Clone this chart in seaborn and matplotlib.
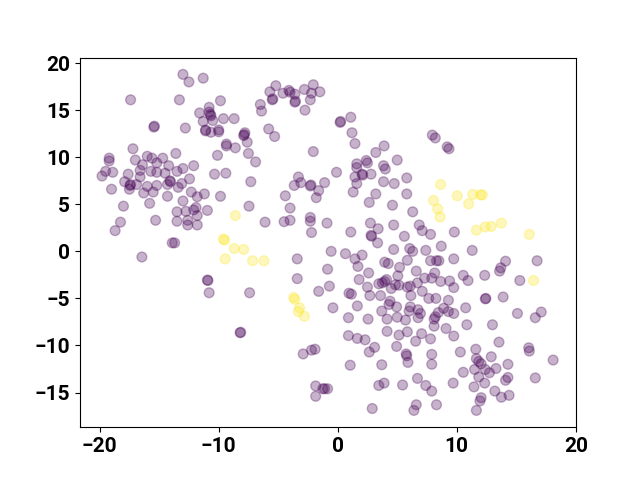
import matplotlib
matplotlib.use("Agg")
import matplotlib.pyplot as plt
import seaborn as sns
import pandas as pd

# embedding coordinates, grouped by area of the plot
# class 0 (purple)
top_left_x = [-13.0, -12.5, -11.3, -17.4, -13.3, -11.6, -15.45, -15.4, -12.8, -11.3, -11.1, -11.1,
              -17.2, -13.6, -19.2, -19.2, -17.0, -16.0, -15.6, -15.2, -14.7, -14.2, -12.1, -13.0,
              -16.4, -16.6, -15.7, -15.2, -14.5, -13.5, -19.5, -18.9, -19.8, -17.6, -16.6, -12.45]
top_left_y = [18.8, 18.0, 18.4, 16.1, 16.1, 14.7, 13.2, 13.3, 13.1, 13.8, 12.8, 12.9,
              10.9, 10.4, 9.9, 9.6, 9.7, 10.1, 9.9, 9.4, 9.9, 9.1, 9.1, 8.8,
              9.2, 8.6, 8.5, 8.4, 8.3, 8.5, 8.5, 8.4, 8.0, 8.2, 7.9, 7.7]

mid_left_x = [-19.0, -17.9, -17.4, -17.45, -17.5, -16.9, -16.0, -16.3, -15.5, -15.2, -14.3, -14.1,
              -14.05, -13.4, -13.1, -14.3, -13.0, -12.3, -11.8, -11.2, -18.0, -15.8, -13.5, -12.75,
              -12.1, -11.9, -11.8, -10.95, -18.25, -18.7, -15.3, -13.5, -12.6, -12.6, -11.8, -13.9,
              -13.7, -16.45, -10.95, -10.9, -10.8]
mid_left_y = [6.6, 7.4, 7.1, 7.0, 6.6, 7.1, 6.9, 6.2, 6.3, 7.0, 7.1, 7.5,
              7.4, 6.8, 7.2, 5.85, 5.35, 6.3, 5.8, 6.1, 4.8, 5.1, 4.2, 4.25,
              4.4, 4.65, 3.8, 4.35, 3.1, 2.2, 3.3, 3.2, 3.3, 2.8, 2.8, 0.9,
              0.9, -0.6, -3.05, -3.1, -4.4]

top_mid_x = [-5.2, -5.7, -4.6, -4.1, -4.0, -3.6, -3.6, -3.55, -2.8, -2.05, -2.2, -2.3,
             -1.5, -2.75, -5.5, -5.45, -6.5, -6.4, -9.85, -10.8, -10.8, -10.65, -10.7, -10.5,
             -9.6, -8.7, -10.0, -10.0, -10.65, -7.8, -7.9, -7.85, -5.8, -5.3, -9.35, -9.35,
             -8.6, -7.6, -7.5, -6.9, -10.1, -10.35, -9.4, -2.05, -7.3, -3.3]
top_mid_y = [17.6, 16.95, 16.8, 17.1, 16.9, 16.7, 15.85, 15.95, 17.2, 17.7, 16.8, 16.1,
             16.95, 15.0, 16.1, 16.2, 15.6, 14.9, 16.0, 15.3, 14.8, 14.4, 14.55, 13.9,
             14.1, 14.1, 12.9, 12.7, 12.65, 12.6, 12.3, 12.4, 13.0, 12.2, 11.4, 11.2,
             11.0, 11.6, 10.4, 9.5, 10.2, 8.2, 8.3, 10.6, 7.4, 7.9]

centre_x = [-9.85, -7.45, -6.1, -3.65, -3.1, -2.3, -2.25, -1.6, -1.8, -1.1, -4.4, -4.0,
            -4.5, -4.0, -2.3, -2.3, -2.2, -0.9, -0.55, -3.4, -0.85, -3.4, -7.4, -1.6, -0.7]
centre_y = [5.85, 4.8, 3.1, 7.0, 7.3, 6.95, 7.05, 6.45, 5.7, 7.3, 5.9, 4.6,
            3.15, 3.3, 3.6, 3.2, 2.0, 3.0, 0.0, -0.8, -1.9, -2.9, -4.4, -4.25, -3.7]

low_left_x = [-8.2, -8.15, -2.9, -2.2, -1.9, -1.85, -1.85, -1.25, -1.1, -0.85, -0.4]
low_left_y = [-8.65, -8.6, -10.9, -10.5, -10.4, -14.3, -15.4, -14.6, -14.6, -14.6, -6.0]

top_right_x = [0.2, 0.25, 1.1, 1.2, 1.45, 3.9, 3.2, 5.0, 2.4, 2.5, 1.6, 1.6,
               3.85, 4.0, -0.1, 2.1, 2.05, 2.8, 1.45, 5.8, 7.95, 8.2, 9.2, 9.35]
top_right_y = [13.7, 13.8, 14.25, 12.6, 11.45, 11.2, 10.5, 9.7, 9.65, 9.4, 9.3, 8.9,
               9.1, 8.75, 8.4, 8.1, 8.2, 8.2, 7.9, 7.8, 12.35, 12.05, 11.1, 10.9]

mid_right_x = [1.6, 3.85, 4.75, 1.3, 3.2, 2.65, 4.6, 5.8, 6.3, 2.75, 3.4, 4.7,
               6.85, 7.1, 7.8, 1.1, 2.85, 2.8, 3.35, 5.6, 8.7, 9.8, 0.65, 1.45,
               2.05, 4.7, 6.05, 6.3, 7.4, 7.8, 8.3, 8.5, 9.75, 5.85, 1.7, 3.95,
               4.25, 5.2, 2.6, 5.05, 6.6, 8.15, 7.3, 7.9, 8.65, 9.4, 1.8, 4.1,
               3.45, 3.75, 3.95, 4.85, 5.15, 5.85, 6.1, 6.7, 2.5, 4.5, 7.1, 9.75,
               0.95, 1.15, 2.7, 3.6, 6.15, 7.65, 8.25, 9.3, 4.4]
mid_right_y = [7.2, 7.4, 7.2, 6.3, 6.1, 5.2, 4.9, 6.1, 4.2, 3.0, 2.4, 2.8,
               2.8, 2.2, 1.8, 2.05, 1.6, 1.7, 0.9, 1.6, 0.55, 2.05, -0.25, -0.8,
               -0.4, 0.2, 0.3, 0.0, 0.1, -1.0, -1.0, -1.0, -0.8, -0.95, -1.6, -1.15,
               -1.3, -1.7, -2.3, -2.6, -2.1, -2.3, -2.85, -2.85, -3.2, -3.15, -3.0, -3.0,
               -3.45, -3.35, -3.2, -3.55, -3.6, -3.8, -3.7, -3.35, -3.8, -3.95, -4.25, -3.85,
               -4.45, -4.55, -4.7, -4.7, -4.7, -5.0, -5.0, -5.2, -5.3]

low_mid_x = [1.65, 0.9, 2.55, 3.7, 4.15, 4.3, 4.95, 5.0, 5.7, 6.0, 6.1, 6.75,
             6.95, 6.75, 8.1, 8.2, 8.1, 8.45, 8.9, 9.3, 9.75, 0.9, 1.65, 2.3,
             4.15, 5.15, 5.85, 7.05, 6.55, 7.8, 9.1, 9.75, 3.1, 2.65, 4.95, 5.75,
             5.8, 5.9, 7.9, 7.9, 1.05, 3.7, 3.45, 3.9, 5.45, 6.7, 7.4, 7.9,
             9.7, 2.9, 6.6, 6.4, 8.3]
low_mid_y = [-5.8, -7.05, -7.2, -6.35, -7.2, -5.65, -5.9, -7.0, -7.3, -6.35, -5.9, -6.2,
             -6.6, -7.05, -7.2, -6.95, -7.95, -6.5, -6.05, -6.4, -6.6, -8.95, -9.25, -9.4,
             -8.5, -8.9, -8.55, -8.75, -9.55, -9.3, -8.2, -9.0, -10.2, -10.7, -10.1, -10.9,
             -11.1, -11.8, -10.95, -12.0, -12.1, -12.05, -14.25, -14.0, -14.2, -13.5, -14.25, -14.85,
             -14.0, -16.7, -16.3, -16.9, -16.3]

low_right_x = [10.75, 10.85, 13.0, 15.1, 16.6, 17.1, 13.55, 16.05, 16.1, 18.1, 10.3, 11.6,
               11.65, 11.85, 12.9, 12.05, 10.55, 11.5, 12.4, 12.75, 13.3, 14.3, 14.3, 14.1,
               11.85, 12.35, 11.45, 16.6, 13.2, 13.75, 14.4, 12.05, 11.95, 11.65]
low_right_y = [-6.0, -7.8, -7.8, -6.6, -7.05, -6.45, -9.65, -10.25, -10.6, -11.55, -10.7, -10.4,
               -11.4, -11.7, -11.2, -11.95, -12.85, -12.55, -12.55, -12.9, -12.45, -12.0, -13.4, -13.7,
               -13.35, -14.0, -14.4, -13.45, -14.85, -15.5, -15.3, -15.55, -15.9, -16.9]

far_right_x = [11.3, 14.1, 13.7, 13.6, 16.75, 10.55, 10.95, 12.35, 15.3, 12.4, 12.45, 13.9]
far_right_y = [0.1, -1.05, -1.75, -2.1, -1.0, -2.55, -3.1, -2.55, -3.1, -5.05, -5.0, -4.85]

# class 1 (yellow)
yellow_x = [-8.6, -9.6, -9.5, -8.7, -7.9, -9.45, -7.15, -6.2, -3.7, -3.6, -3.2, -3.3, -2.8,
            8.65, 8.05, 8.4, 8.6, 10.05, 11.35, 12.0, 12.15, 11.0, 11.65, 12.4, 12.9, 13.75, 16.1, 16.45]
yellow_y = [3.8, 1.3, 1.2, 0.3, 0.2, -0.8, -1.0, -1.0, -4.9, -5.1, -6.0, -6.4, -6.9,
            7.1, 5.4, 4.5, 3.65, 5.9, 6.05, 6.0, 6.0, 5.05, 2.25, 2.6, 2.65, 3.0, 1.8, -3.1]

purple_x = (top_left_x + mid_left_x + top_mid_x + centre_x + low_left_x + top_right_x
            + mid_right_x + low_mid_x + low_right_x + far_right_x)
purple_y = (top_left_y + mid_left_y + top_mid_y + centre_y + low_left_y + top_right_y
            + mid_right_y + low_mid_y + low_right_y + far_right_y)

df = pd.DataFrame({
    "x": purple_x + yellow_x,
    "y": purple_y + yellow_y,
    "label": [0] * len(purple_x) + [1] * len(yellow_x),
})

plt.rcParams['font.family'] = ['Roboto', 'DejaVu Sans']
plt.rcParams['font.weight'] = 'bold'
plt.rcParams['xtick.labelsize'] = 15
plt.rcParams['ytick.labelsize'] = 15

fig, ax = plt.subplots(figsize=(6.4, 4.8), dpi=100)
sns.scatterplot(data=df, x="x", y="y", hue="label",
                palette={0: "#440154", 1: "#fde725"},
                alpha=0.3, s=50, edgecolor="face", linewidth=1,
                legend=False, ax=ax)
ax.set_xlim(-21.65, 20.02)
ax.set_xlabel("")
ax.set_ylabel("")

fig.savefig("out.png")
